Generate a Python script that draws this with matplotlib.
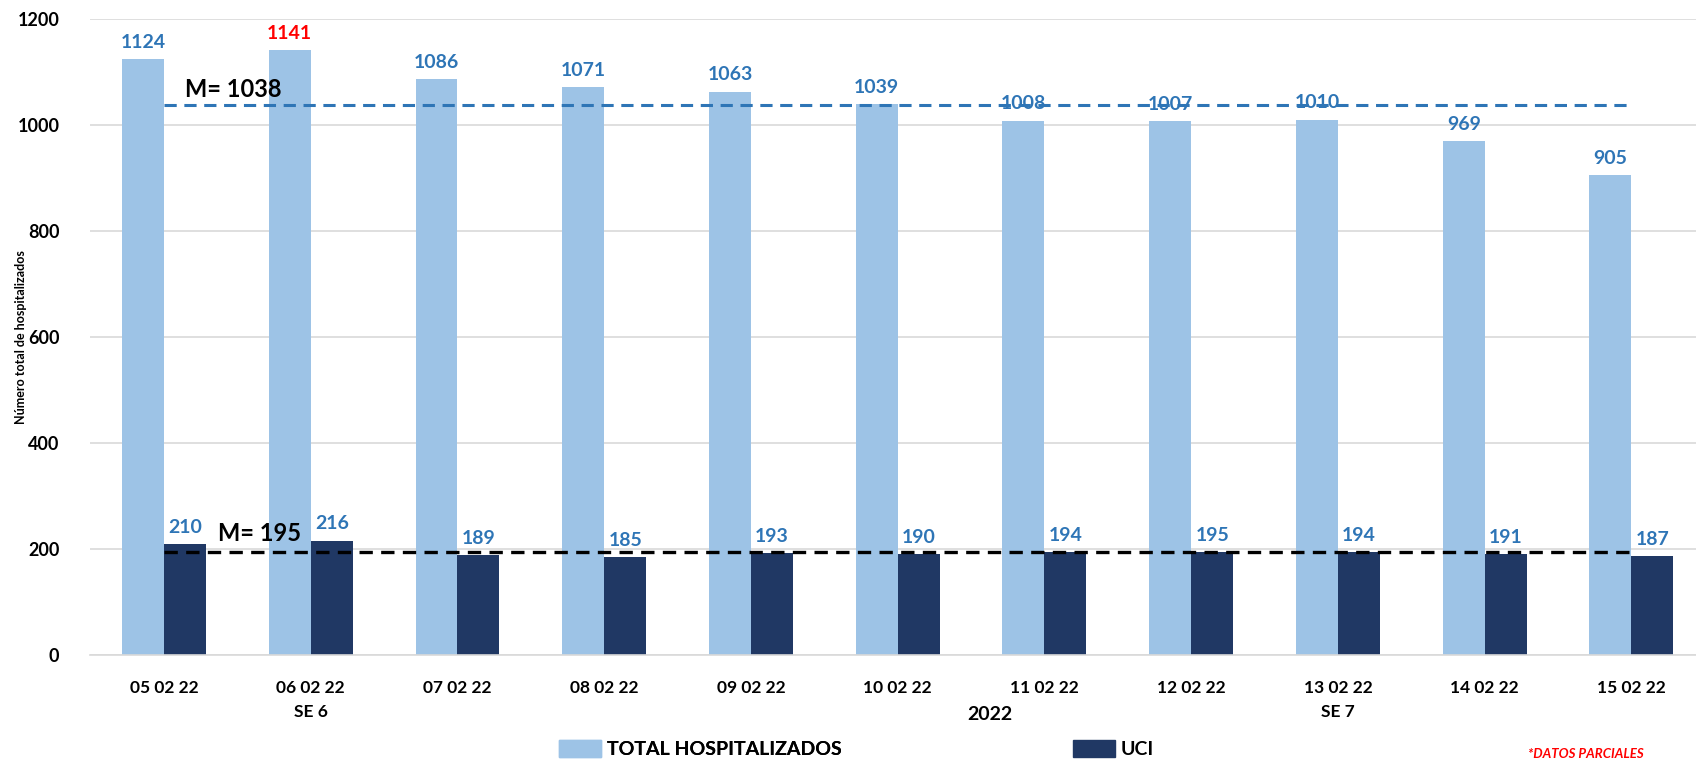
import matplotlib.pyplot as plt
import matplotlib.transforms as mtransforms
from matplotlib.patches import Patch
import numpy as np

plt.rcParams['font.family'] = ['Lato', 'DejaVu Sans']

fechas = ['05 02 22', '06 02 22', '07 02 22', '08 02 22', '09 02 22', '10 02 22',
          '11 02 22', '12 02 22', '13 02 22', '14 02 22', '15 02 22']
total_hosp = [1124, 1141, 1086, 1071, 1063, 1039, 1008, 1007, 1010, 969, 905]
uci = [210, 216, 189, 185, 193, 190, 194, 195, 194, 191, 187]
semanas = {1: 'SE 6', 8: 'SE 7'}
media_total = 1038
media_uci = 195

c_light = '#9DC3E6'
c_dark = '#203864'
c_lab = '#2E75B6'

fig = plt.figure(figsize=(16.96, 7.61), dpi=100)
ax = fig.add_axes([0.053, 0.139, 0.947, 0.836])

x = np.arange(len(fechas))
w = 0.286
b1 = ax.bar(x - w / 2, total_hosp, w, color=c_light, zorder=2)
b2 = ax.bar(x + w / 2, uci, w, color=c_dark, zorder=2)

# etiquetas de valores
imax = int(np.argmax(total_hosp))
for i, v in enumerate(total_hosp):
    ax.annotate(str(v), (x[i] - w / 2, v), xytext=(0, 6), textcoords='offset points',
                ha='center', va='bottom', fontsize=14, fontweight='bold',
                color='red' if i == imax else c_lab, zorder=3)
for i, v in enumerate(uci):
    ax.annotate(str(v), (x[i] + w / 2, v), xytext=(0, 6), textcoords='offset points',
                ha='center', va='bottom', fontsize=14, fontweight='bold', color=c_lab, zorder=3)

# medias
ax.plot([x[0], x[-1]], [media_total, media_total], ls=(0, (4, 2.5)), lw=2.2, color=c_lab, zorder=4)
ax.plot([x[0], x[-1]], [media_uci, media_uci], ls=(0, (4, 2.5)), lw=2.4, color='black', zorder=4)
ax.text(0.14, media_total + 8, 'M= ' + str(media_total), fontsize=17, fontweight='bold', va='bottom', zorder=5)
ax.text(0.37, media_uci + 12, 'M= ' + str(media_uci), fontsize=17, fontweight='bold', va='bottom', zorder=5)

ax.set_xlim(-0.505, 10.44)
ax.set_ylim(0, 1200)
ax.set_yticks(range(0, 1201, 200))
ax.set_xticks(x)
ax.set_xticklabels(fechas, fontsize=12.5, fontweight='bold')
ax.tick_params(axis='x', length=0, pad=18)
ax.tick_params(axis='y', length=0, pad=22, labelsize=13)
for t in ax.get_yticklabels():
    t.set_fontweight('bold')
ax.grid(axis='y', color='#D9D9D9', lw=1.2, zorder=0)
for s in ['top', 'right', 'left']:
    ax.spines[s].set_visible(False)
ax.spines['bottom'].set_color('#D9D9D9')
ax.spines['bottom'].set_linewidth(1.2)

ax.set_ylabel('Número total de hospitalizados', fontsize=9, fontweight='bold')
ax.yaxis.set_label_coords(-0.039, 0.5)

trans = mtransforms.blended_transform_factory(ax.transData, fig.transFigure)
for i, s in semanas.items():
    ax.text(x[i], 1 - 712 / 761, s, transform=trans, ha='center', va='center', fontsize=12.5, fontweight='bold')
fig.text(990 / 1696, 1 - 715 / 761, '2022', ha='center', va='center', fontsize=14, fontweight='bold')

handles = [Patch(color=c_light), Patch(color=c_dark)]
leg1 = fig.legend([handles[0]], ['TOTAL HOSPITALIZADOS'], loc='center left',
                  bbox_to_anchor=(541 / 1696, 1 - 749 / 761), frameon=False,
                  prop={'size': 14, 'weight': 'bold'}, handlelength=2.2, handleheight=1.0, handletextpad=0.3)
fig.legend([handles[1]], ['UCI'], loc='center left',
           bbox_to_anchor=(1055 / 1696, 1 - 749 / 761), frameon=False,
           prop={'size': 14, 'weight': 'bold'}, handlelength=2.2, handleheight=1.0, handletextpad=0.3)
fig.add_artist(leg1)
fig.text(1528 / 1696, 1 - 754 / 761, '*DATOS PARCIALES', color='red', fontsize=9.5,
         fontweight='bold', style='italic', va='center')

fig.savefig('out.png', dpi=100)
